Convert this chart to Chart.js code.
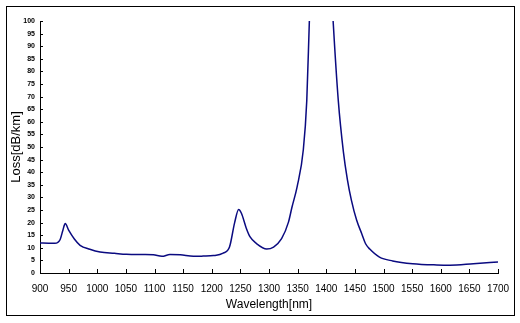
<!DOCTYPE html>
<html>
<head>
<meta charset="utf-8">
<script src="https://cdn.jsdelivr.net/npm/chart.js@4/dist/chart.umd.min.js"></script>
<style>
  html, body { margin: 0; padding: 0; background: #fff; }
  #wrap { width: 520px; height: 323px; position: relative; }
</style>
</head>
<body>
<div id="wrap"><canvas id="chart"></canvas></div>
<script>
// wavelength [nm] and loss [dB/km]
const wavelengths = [900, 915, 926, 935, 940, 944, 950, 960, 970, 987, 1005, 1030, 1051, 1080, 1098, 1113, 1127, 1145, 1168, 1185, 1203, 1220, 1231, 1240, 1247, 1252, 1260, 1267, 1278, 1296, 1308, 1322, 1334, 1340, 1349, 1360, 1366, 1370.5, 1375, 1390, 1405, 1412, 1421, 1430, 1437, 1444, 1453, 1462, 1469, 1476, 1493, 1516, 1551, 1593, 1616, 1657, 1700];
const loss = [11.9, 11.8, 11.8, 13.2, 17, 19.6, 17, 13.5, 11, 9.4, 8.3, 7.8, 7.4, 7.3, 7.2, 6.6, 7.3, 7.2, 6.6, 6.7, 6.9, 7.9, 10.3, 20, 25.2, 23.6, 18, 14.3, 11.7, 9.5, 10.3, 13.6, 20.2, 26, 34.1, 49, 68.5, 100, 130, 160, 130, 100, 68.5, 48, 37, 28.8, 21, 15.6, 11.5, 9.5, 6.3, 4.8, 3.7, 3.2, 3.1, 3.7, 4.4];

const xMin = 900, xMax = 1700, xStep = 50;
const yMin = 0, yMax = 100, yStep = 5;

const points = wavelengths.map((w, i) => ({ x: w, y: loss[i] }));

const frameAndTicks = {
  id: "frameAndTicks",
  afterDraw(chart) {
    const ctx = chart.ctx;
    const xs = chart.scales.x, ys = chart.scales.y;
    ctx.save();
    ctx.strokeStyle = "#000";
    ctx.lineWidth = 1;
    ctx.beginPath();
    xs.ticks.forEach(t => {
      const px = Math.round(xs.getPixelForValue(t.value)) + 0.5;
      ctx.moveTo(px, ys.bottom);
      ctx.lineTo(px, ys.bottom - 4);
    });
    ys.ticks.forEach(t => {
      const py = Math.round(ys.getPixelForValue(t.value)) + 0.5;
      ctx.moveTo(xs.left, py);
      ctx.lineTo(xs.left + 3, py);
    });
    ctx.stroke();
    ctx.strokeRect(6.5, 6.5, 508, 309);
    ctx.restore();
  }
};

new Chart(document.getElementById("chart"), {
  type: "line",
  data: {
    datasets: [{
      data: points,
      borderColor: "#0a0a80",
      borderWidth: 1.5,
      pointRadius: 0,
      cubicInterpolationMode: "monotone",
      clip: 0,
      fill: false
    }]
  },
  options: {
    responsive: true,
    maintainAspectRatio: false,
    animation: false,
    layout: { padding: { left: 6, top: 21, right: 22, bottom: 8 } },
    plugins: { legend: { display: false }, tooltip: { enabled: false } },
    scales: {
      x: {
        type: "linear",
        min: xMin,
        max: xMax,
        grid: { display: false, drawTicks: false },
        border: { display: true, color: "#000", width: 1 },
        ticks: {
          stepSize: xStep,
          color: "#000",
          padding: 10,
          maxRotation: 0,
          autoSkip: false,
          callback: v => String(v),
          font: { family: "'Liberation Sans', Arial, sans-serif", size: 10 }
        },
        title: {
          display: true,
          text: "Wavelength[nm]",
          color: "#000",
          padding: { top: 0, bottom: 3 },
          font: { family: "'Liberation Sans', Arial, sans-serif", size: 12 }
        },
        afterFit(scale) { scale.height = 42; }
      },
      y: {
        type: "linear",
        min: yMin,
        max: yMax,
        grid: { display: false, drawTicks: false },
        border: { display: true, color: "#000", width: 1 },
        ticks: {
          stepSize: yStep,
          color: "#000",
          padding: 5,
          autoSkip: false,
          callback: v => String(v),
          font: { family: "'Liberation Sans', Arial, sans-serif", size: 7, weight: "bold" }
        },
        title: {
          display: true,
          text: "Loss[dB/km]",
          color: "#000",
          padding: { top: 3, bottom: 0 },
          font: { family: "'Liberation Sans', Arial, sans-serif", size: 13 }
        },
        afterFit(scale) { scale.width = 34; }
      }
    }
  },
  plugins: [frameAndTicks]
});
</script>
</body>
</html>
